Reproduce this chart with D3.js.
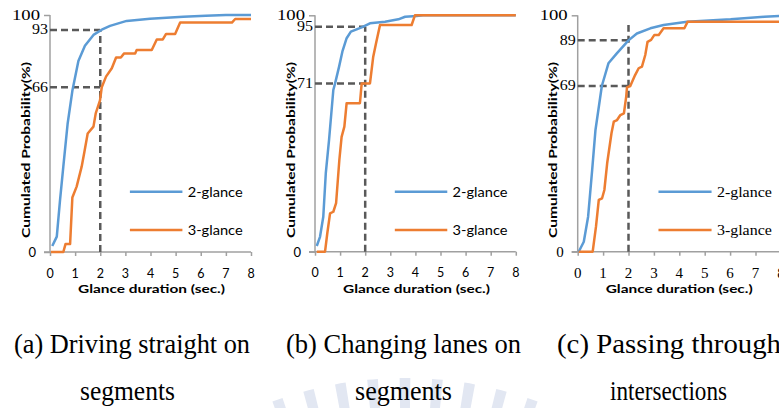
<!DOCTYPE html>
<html><head><meta charset="utf-8">
<script src="https://cdn.jsdelivr.net/npm/d3@7"></script>
<style>html,body{margin:0;padding:0;background:#fff;}svg{display:block;}</style>
</head><body>
<svg id="chart" width="779" height="408"></svg>
<script>
// ---------- data ----------
const xTicks = [0,1,2,3,4,5,6,7,8];
const seriesNames = ["2-glance","3-glance"];
const refDuration = 2;

// (a) Driving straight on segments  [duration (s), cumulated %]
const a2 = [[0.09,2.5],[0.27,6.5],[0.4,22],[0.53,36],[0.7,54],[0.89,68],[1.13,80.6],[1.39,87],[1.73,91.6],[2.06,93.8],[2.39,95.4],[3.05,97.5],[3.98,98.4],[5.3,99.3],[6.2,99.7],[7,100],[8,100]];
const a3 = [[0.04,0],[0.53,0],[0.62,3.4],[0.8,3.4],[0.89,23],[1.06,27.6],[1.26,36],[1.37,42.3],[1.5,50],[1.73,52.9],[1.82,58.5],[1.99,64],[2.06,69.5],[2.23,74],[2.46,77.5],[2.63,82.1],[2.82,82.1],[2.95,83.8],[3.39,83.8],[3.45,85.2],[4.05,85.2],[4.25,89.7],[4.49,89.7],[4.62,92],[4.98,92],[5.18,96.8],[7.24,96.8],[7.37,98.3],[8,98.3]];
// (b) Changing lanes on segments
const b2 = [[0.07,2.4],[0.2,6.3],[0.33,14.8],[0.43,33.2],[0.56,47.3],[0.73,68.4],[0.8,71.2],[0.96,78.3],[1.09,84.6],[1.26,90.3],[1.43,93.1],[1.86,94.9],[2.19,96.6],[2.79,97.3],[3.32,98.3],[3.59,99.4],[4.05,99.7],[4.3,100],[8,100]];
const b3 = [[0.07,0],[0.4,0],[0.49,7.8],[0.6,16.2],[0.73,16.9],[0.84,20.5],[0.97,38.8],[1.06,48.6],[1.17,52.9],[1.26,62.8],[1.79,62.8],[1.86,71.2],[2.19,71.2],[2.32,82.5],[2.43,88.1],[2.59,95.9],[3.85,95.9],[3.98,100],[8,100]];
// (c) Passing through intersections
const c2 = [[0.04,0],[0.24,4.2],[0.41,14.8],[0.57,34.6],[0.7,51.5],[0.95,70.1],[1.21,79.7],[1.54,83.9],[2,89.4],[2.33,92.3],[2.86,94.5],[3.38,95.9],[4.31,97.3],[6.02,98.3],[7.34,99.4],[8,99.8]];
const c3 = [[0.04,0],[0.59,0],[0.72,10.6],[0.83,21.9],[0.96,22.6],[1.05,26.1],[1.16,37.4],[1.33,50.1],[1.42,55],[1.55,55.7],[1.68,57.8],[1.82,58.5],[1.91,65.6],[1.94,69.5],[2.07,70.1],[2.26,74.7],[2.4,77.6],[2.53,78.3],[2.66,83.2],[2.75,88.8],[2.89,89.6],[3.02,91.7],[3.19,91.7],[3.38,94.5],[4.2,94.5],[4.33,97.3],[8,97.3]];

// reference (dashed) levels: label text and level
const refLabelsA = ["93","66"], refLevelsA = [93.7,69.5], refTopA = 93.7;
const refLabelsB = ["95","71"], refLevelsB = [95.2,71.2], refTopB = 95.2;
const refLabelsC = ["89","69"], refLevelsC = [89.4,70.1], refTopC = 95.9;
const captionsA = ["(a) Driving straight on","segments"];
const captionsB = ["(b) Changing lanes on","segments"];
const captionsC = ["(c) Passing through","intersections"];

// ---------- drawing ----------
const svg = d3.select("#chart");
const SANS = "Lato, 'Open Sans', sans-serif";
const SERIF = "'Liberation Serif', 'Times New Roman', serif";
const colors = ["#5B9BD5","#ED7D31"];
const axisColor = "#a0a0a0";
const dashColor = "#595959";

// faint background watermark (radial rays, only their tips show at the bottom)
const wm = svg.append("g").attr("transform","translate(405,762)");
const rayArc = d3.arc().innerRadius(340).outerRadius(384);
d3.range(-4,5).forEach(k=>{
  const c = k*4.85*Math.PI/180;
  wm.append("path").attr("d",rayArc({startAngle:c-0.8*Math.PI/180,endAngle:c+0.8*Math.PI/180}))
    .attr("fill","#e2e7f2");
});

function txt(g, s, x, y, o){
  const t = g.append("text").attr("x",x).attr("y",y).text(s)
    .attr("font-family",o.font).attr("font-size",o.size)
    .attr("fill",o.fill||"#000")
    .attr("text-anchor",o.anchor||"start")
    .attr("dominant-baseline",o.base||"central");
  if(o.weight) t.attr("font-weight",o.weight);
  if(o.len){ t.attr("textLength",o.len).attr("lengthAdjust","spacingAndGlyphs"); }
  return t;
}

const panels = [
  {s2:a2, s3:a3, labels:refLabelsA, levels:refLevelsA, top:refTopA, cap:captionsA,
   xr:[50,251], yr:[252,15], tickFont:SANS, legFont:SANS,
   cap1:{x:14,len:236}, cap2:{x:80,len:95}},
  {s2:b2, s3:b3, labels:refLabelsB, levels:refLevelsB, top:refTopB, cap:captionsB,
   xr:[315,515.8], yr:[251.7,15.3], tickFont:SANS, legFont:SANS,
   cap1:{x:286,len:235}, cap2:{x:355,len:97}},
  {s2:c2, s3:c3, labels:refLabelsC, levels:refLevelsC, top:refTopC, cap:captionsC,
   xr:[577.7,780.9], yr:[251.7,15.3], tickFont:SERIF, legFont:SERIF,
   cap1:{x:557,len:224}, cap2:{x:610,len:117}}
];

panels.forEach((p,i)=>{
  const g = svg.append("g");
  const x = d3.scaleLinear().domain([0,8]).range(p.xr);
  const y = d3.scaleLinear().domain([0,100]).range(p.yr);
  const x0 = x(0);

  // x axis
  const xa = d3.axisBottom(x).tickValues(xTicks).tickSize(4).tickFormat("");
  const gx = g.append("g").attr("transform",`translate(0,${y(0)})`).call(xa);
  gx.select(".domain").attr("stroke",axisColor).attr("stroke-width",1.5)
    .attr("d",`M${x0-6},0H${x(8)}`);
  gx.selectAll(".tick line").attr("stroke",axisColor).attr("stroke-width",1.5);
  xTicks.forEach(v=>{
    txt(g, String(v), x(v), y(0)+21, {font:p.tickFont, size: p.tickFont===SERIF?15:12.5, anchor:"middle"});
  });
  // y axis
  const ya = d3.axisLeft(y).tickValues([0,100]).tickSize(6).tickFormat("");
  const gy = g.append("g").attr("transform",`translate(${x0},0)`).call(ya);
  gy.select(".domain").attr("stroke",axisColor).attr("stroke-width",1.5).attr("d",`M0,${y(0)}V${y(100)}`);
  gy.selectAll(".tick line").attr("stroke",axisColor).attr("stroke-width",1.5);
  txt(g,"100",x0-10,y(100),{font:SERIF,size:14,anchor:"end",len:28});
  txt(g,"0",x0-14,y(0),{font:p.tickFont,size:p.tickFont===SERIF?15:13,anchor:"end"});

  // dashed reference lines
  const dash = g.append("g").attr("stroke",dashColor).attr("stroke-width",2.5)
    .attr("stroke-dasharray","7,4").attr("fill","none");
  p.levels.forEach(l=>{
    dash.append("line").attr("x1",x0).attr("x2",x(refDuration)).attr("y1",y(l)).attr("y2",y(l));
  });
  dash.append("line").attr("x1",x(refDuration)).attr("x2",x(refDuration)).attr("y1",y(0)).attr("y2",y(p.top));
  p.labels.forEach((s,k)=>{
    txt(g,s,x0-2,y(p.levels[k]),{font:SERIF,size:14,anchor:"end",len:16});
  });

  // curves
  const line = d3.line().x(d=>x(d[0])).y(d=>y(d[1]));
  [p.s2,p.s3].forEach((s,k)=>{
    g.append("path").datum(s).attr("d",line).attr("fill","none")
      .attr("stroke",colors[k]).attr("stroke-width",2.5).attr("stroke-linejoin","round");
  });

  // legend
  [191.7,230].forEach((ly,k)=>{
    g.append("line").attr("x1",x(3.18)).attr("x2",x(5.27)).attr("y1",ly).attr("y2",ly)
      .attr("stroke",colors[k]).attr("stroke-width",2.5);
    txt(g,seriesNames[k],x(5.48),ly,{font:p.legFont,size:p.legFont===SERIF?15:13,len:55});
  });

  // axis titles
  txt(g,"Glance duration (sec.)",x0+28,288,{font:SANS,size:12,weight:"bold",len:147});
  const yt = g.append("g").attr("transform",`translate(${x0-25},150) rotate(-90)`);
  txt(yt,"Cumulated Probability(%)",0,0,{font:SANS,size:12,weight:"bold",anchor:"middle",len:176});

  // captions
  txt(g,p.cap[0],p.cap1.x,353,{font:SERIF,size:27,base:"alphabetic",len:p.cap1.len});
  txt(g,p.cap[1],p.cap2.x,400,{font:SERIF,size:27,base:"alphabetic",len:p.cap2.len});
});
</script>
</body></html>
